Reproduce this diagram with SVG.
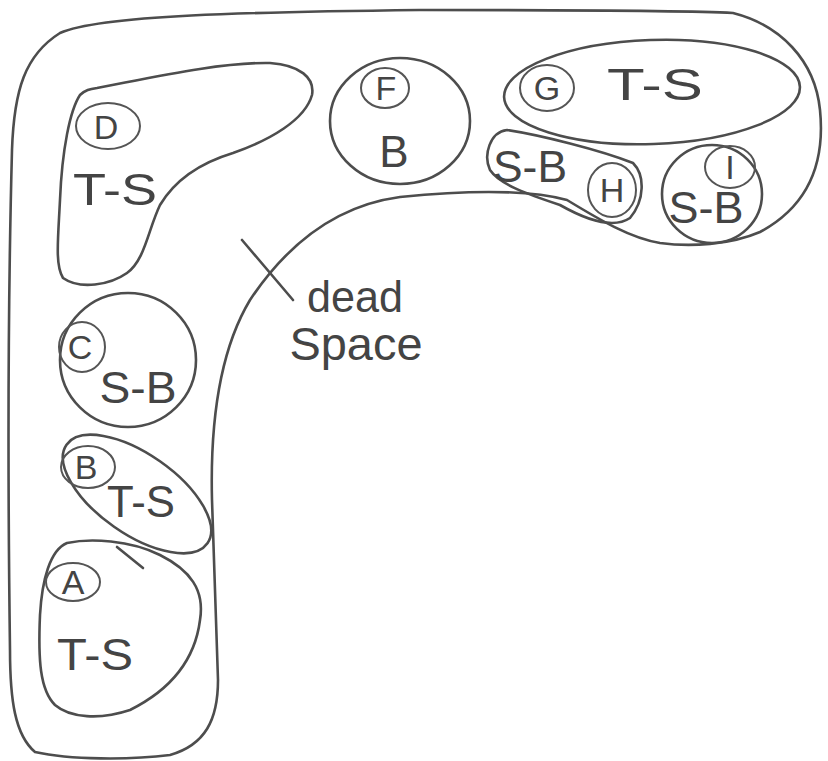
<svg xmlns="http://www.w3.org/2000/svg" width="828" height="761" viewBox="0 0 828 761">
<style>
.ln{fill:none;stroke:#4d4d4d;stroke-width:2.6;stroke-linecap:round;stroke-linejoin:round}
.lb{fill:none;stroke:#555;stroke-width:2}
.t{font-family:"Liberation Sans",Arial,sans-serif;fill:#444;text-anchor:middle}
.big{font-size:44px}
.sm{font-size:34px}
</style>
<rect width="828" height="761" fill="#ffffff"/>
<g id="outer">
<path class="ln" d="M60,33 C100,15 250,12 420,10 C560,10 680,10 733,13 C780,25 815,60 820,110 C825,160 810,205 760,232 C730,245 690,247 660,243 C630,238 600,220 567,200 C530,190 470,190 400,197 C340,205 290,240 250,300 C220,350 210,420 212,500 L218,680 C218,720 205,745 170,755 C130,760 70,760 35,752 C15,735 10,700 10,650 C8,500 8,300 12,150 C14,90 25,55 60,33 Z"/>
</g>
<g id="node-D">
<path class="ln" d="M97,88 C150,78 220,62 270,63 C300,65 315,78 312,95 C305,120 270,140 233,153 C200,163 175,180 160,205 C148,230 145,260 127,273 C110,285 80,290 63,278 C55,265 58,240 60,200 C62,150 70,110 80,95 C85,90 90,89 97,88 Z"/>
<ellipse class="lb" cx="108" cy="126" rx="32" ry="23"/>
<text class="t sm" x="106" y="139">D</text>
<text class="t big" x="115" y="205" textLength="84" lengthAdjust="spacingAndGlyphs">T-S</text>
</g>
<g id="node-F">
<ellipse class="ln" cx="400" cy="121" rx="70" ry="63"/>
<ellipse class="lb" cx="385" cy="88" rx="24" ry="20"/>
<text class="t sm" x="386" y="100">F</text>
<text class="t big" x="394" y="167">B</text>
</g>
<g id="node-G">
<ellipse class="ln" cx="652" cy="92" rx="148" ry="52" transform="rotate(-2 652 92)"/>
<ellipse class="lb" cx="547" cy="88" rx="27" ry="23"/>
<text class="t sm" x="547" y="100">G</text>
<text class="t big" x="655" y="100" textLength="96" lengthAdjust="spacingAndGlyphs">T-S</text>
</g>
<g id="node-H">
<path class="ln" d="M507,130 C540,135 600,150 633,163 C645,175 645,200 630,218 C615,228 590,222 560,205 C530,195 500,185 490,170 C483,155 490,132 507,130 Z"/>
<ellipse class="lb" cx="612" cy="190" rx="24" ry="27"/>
<text class="t sm" x="612" y="202">H</text>
<text class="t big" x="530" y="182" textLength="74" lengthAdjust="spacingAndGlyphs">S-B</text>
</g>
<g id="node-I">
<ellipse class="ln" cx="712" cy="194" rx="50" ry="49"/>
<ellipse class="lb" cx="730" cy="167" rx="25" ry="21"/>
<text class="t sm" x="730" y="179">I</text>
<text class="t big" x="706" y="223" textLength="75" lengthAdjust="spacingAndGlyphs">S-B</text>
</g>
<g id="node-C">
<ellipse class="ln" cx="128" cy="360" rx="68" ry="67"/>
<ellipse class="lb" cx="82" cy="347" rx="23" ry="25"/>
<text class="t sm" x="80" y="359">C</text>
<text class="t big" x="138" y="403" textLength="77" lengthAdjust="spacingAndGlyphs">S-B</text>
</g>
<g id="node-B">
<ellipse class="ln" cx="137" cy="494" rx="86" ry="40" transform="rotate(35 137 494)"/>
<ellipse class="lb" cx="88" cy="467" rx="27" ry="21"/>
<text class="t sm" x="86" y="479">B</text>
<text class="t big" x="141" y="517" textLength="68" lengthAdjust="spacingAndGlyphs">T-S</text>
</g>
<g id="node-A">
<path class="ln" d="M67,543 C90,538 130,540 160,555 C190,570 205,590 200,620 C195,660 170,690 130,710 C100,720 70,718 55,705 C40,690 38,660 40,615 C42,580 50,550 67,543 Z"/>
<path class="ln" d="M117,547 L143,568"/>
<ellipse class="lb" cx="73" cy="582" rx="27" ry="19"/>
<text class="t sm" x="73" y="594">A</text>
<text class="t big" x="95" y="670" textLength="76" lengthAdjust="spacingAndGlyphs">T-S</text>
</g>
<g id="connectors">
<path class="ln" d="M242,240 L293,300"/>
</g>
<g id="dead-space">
<text class="t" style="font-size:44px" x="355" y="312" textLength="96" lengthAdjust="spacingAndGlyphs">dead</text>
<text class="t" style="font-size:46px" x="356" y="360" textLength="133" lengthAdjust="spacingAndGlyphs">Space</text>
</g>
</svg>
